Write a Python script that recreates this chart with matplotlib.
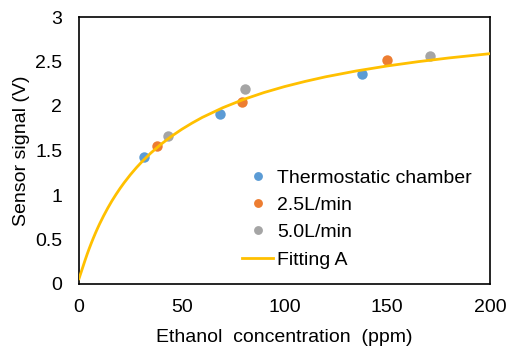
import matplotlib
matplotlib.use("Agg")
import matplotlib.pyplot as plt

plt.rcParams['font.family'] = ['Liberation Sans', 'DejaVu Sans']

# Data
thermo_x = [31.6, 68.6, 137.7]
thermo_y = [1.43, 1.91, 2.36]
flow25_x = [38.0, 79.3, 150.0]
flow25_y = [1.55, 2.045, 2.52]
flow50_x = [43.3, 80.8, 170.8]
flow50_y = [1.66, 2.19, 2.56]

# Fitting curve
fit_x = [0, 1, 2, 3, 4, 5, 6, 7, 8, 9, 10, 12, 14, 16, 18, 20, 22, 25, 28,
         31, 35, 40, 45, 50, 55, 60, 70, 80, 90, 100, 110, 120, 135, 150, 165, 180, 200]
fit_y = [0.06, 0.13, 0.20, 0.270, 0.337, 0.400, 0.460, 0.517, 0.572, 0.624, 0.674,
         0.767, 0.853, 0.933, 1.006, 1.075, 1.139, 1.228, 1.309,
         1.383, 1.473, 1.572, 1.660, 1.738, 1.808, 1.872, 1.981, 2.073, 2.151,
         2.218, 2.276, 2.328, 2.394, 2.450, 2.498, 2.540, 2.588]

xticks = [0, 50, 100, 150, 200]
yticks = [0, 0.5, 1, 1.5, 2, 2.5, 3]
yticklabels = ['0', '0.5', '1', '1.5', '2', '2.5', '3']

fig = plt.figure(figsize=(5.08, 3.49), dpi=100)
ax = fig.add_axes([79/508, 65/349, 411/508, 267/349])

ms = 7.5
ax.plot(thermo_x, thermo_y, 'o', color='#5B9BD5', ms=ms, mec='none', label='Thermostatic chamber', zorder=3)
ax.plot(flow25_x, flow25_y, 'o', color='#ED7D31', ms=ms, mec='none', label='2.5L/min', zorder=3)
ax.plot(flow50_x, flow50_y, 'o', color='#A5A5A5', ms=ms, mec='none', label='5.0L/min', zorder=3)
ax.plot(fit_x, fit_y, '-', color='#FFC000', lw=2, label='Fitting A', zorder=4)

ax.set_xlim(0, 200)
ax.set_ylim(0, 3)
ax.set_xticks(xticks)
ax.set_yticks(yticks)
ax.set_yticklabels(yticklabels)
ax.tick_params(axis='both', length=0, labelsize=14)
ax.tick_params(axis='x', pad=11)
ax.tick_params(axis='y', pad=12)
for s in ax.spines.values():
    s.set_linewidth(1.2)
    s.set_color('black')

ax.set_xlabel('Ethanol  concentration  (ppm)', fontsize=14, labelpad=9)
ax.set_ylabel('Sensor signal (V)', fontsize=14, labelpad=4)

leg = ax.legend(loc='upper left', bbox_to_anchor=((242-79)/411, (284-169)/267),
                frameon=False, fontsize=14, borderpad=0, borderaxespad=0,
                handlelength=1.6, handletextpad=0.2, labelspacing=0.5, markerscale=0.85)

fig.savefig('out.png', dpi=100)
